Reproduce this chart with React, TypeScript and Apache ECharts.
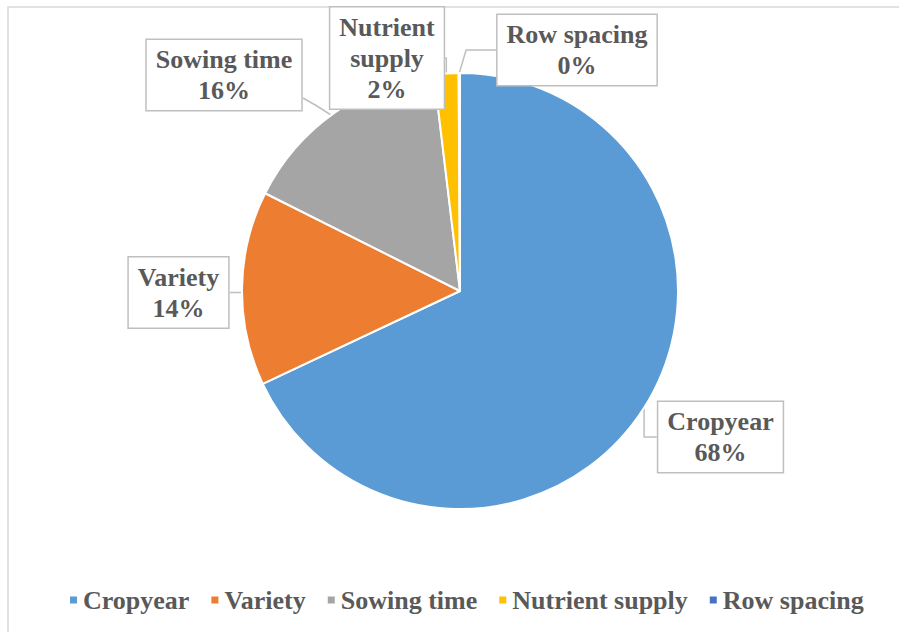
import React, { useEffect, useRef } from "react";
import * as echarts from "echarts";

const categories = ["Cropyear", "Variety", "Sowing time", "Nutrient supply", "Row spacing"];
const labelNames = ["Cropyear", "Variety", "Sowing time", "Nutrient\nsupply", "Row spacing"];
const values = [68.0, 14.4, 15.7, 1.8, 0.1];
const colors = ["#5B9BD5", "#ED7D31", "#A5A5A5", "#FFC000", "#4472C4"];
// label box centres (pixels)
const labelPos: [number, number][] = [
  [720.5, 437],
  [178.5, 292.5],
  [224, 75],
  [387, 58],
  [577, 50],
];

const FONT = "Liberation Serif";
const TEXT = "#595959";
const txt = {
  fontFamily: FONT,
  fontWeight: "bold" as const,
  fontSize: 26,
  color: TEXT,
};

export default function App() {
  const ref = useRef<HTMLDivElement>(null);
  useEffect(() => {
    if (!ref.current) return;
    const chart = echarts.init(ref.current, undefined, { renderer: "svg" });
    chart.setOption({
      animation: false,
      backgroundColor: "#ffffff",
      textStyle: { fontFamily: FONT },
      graphic: [
        {
          type: "rect",
          z: -10,
          silent: true,
          shape: { x: 8, y: 7, width: 1000, height: 1000 },
          style: { fill: "none", stroke: "#D9D9D9", lineWidth: 1.5 },
        },
      ],
      legend: {
        data: categories,
        left: 68,
        top: 585,
        padding: 0,
        itemWidth: 9,
        itemHeight: 9,
        itemGap: 20,
        icon: "rect",
        textStyle: { ...txt, lineHeight: 30 },
      },
      series: [
        {
          type: "pie",
          center: [460, 291],
          radius: 218,
          startAngle: 90,
          clockwise: true,
          avoidLabelOverlap: false,
          itemStyle: { borderColor: "#ffffff", borderWidth: 2 },
          label: {
            show: true,
            formatter: (p: any) => `${labelNames[p.dataIndex]}\n${Math.round(p.percent)}%`,
            ...txt,
            lineHeight: 31,
            align: "center",
            backgroundColor: "#ffffff",
            borderColor: "#BFBFBF",
            borderWidth: 1.5,
            padding: [4, 9],
          },
          labelLine: {
            show: true,
            lineStyle: { color: "#BFBFBF", width: 1.5 },
          },
          labelLayout: (params: any) => {
            const pos = labelPos[params.dataIndex];
            const out: any = { x: pos[0], y: pos[1], align: "center", verticalAlign: "middle" };
            if (params.dataIndex === 2) {
              out.labelLinePoints = [
                [331, 115],
                [317, 106],
                [303, 98],
              ];
            }
            return out;
          },
          data: categories.map((c, i) => ({
            name: c,
            value: values[i],
            itemStyle: { color: colors[i] },
          })),
        },
      ],
    });
    return () => chart.dispose();
  }, []);
  return (
    <div
      ref={ref}
      style={{ position: "fixed", left: 0, top: 0, width: 899, height: 632 }}
    />
  );
}
